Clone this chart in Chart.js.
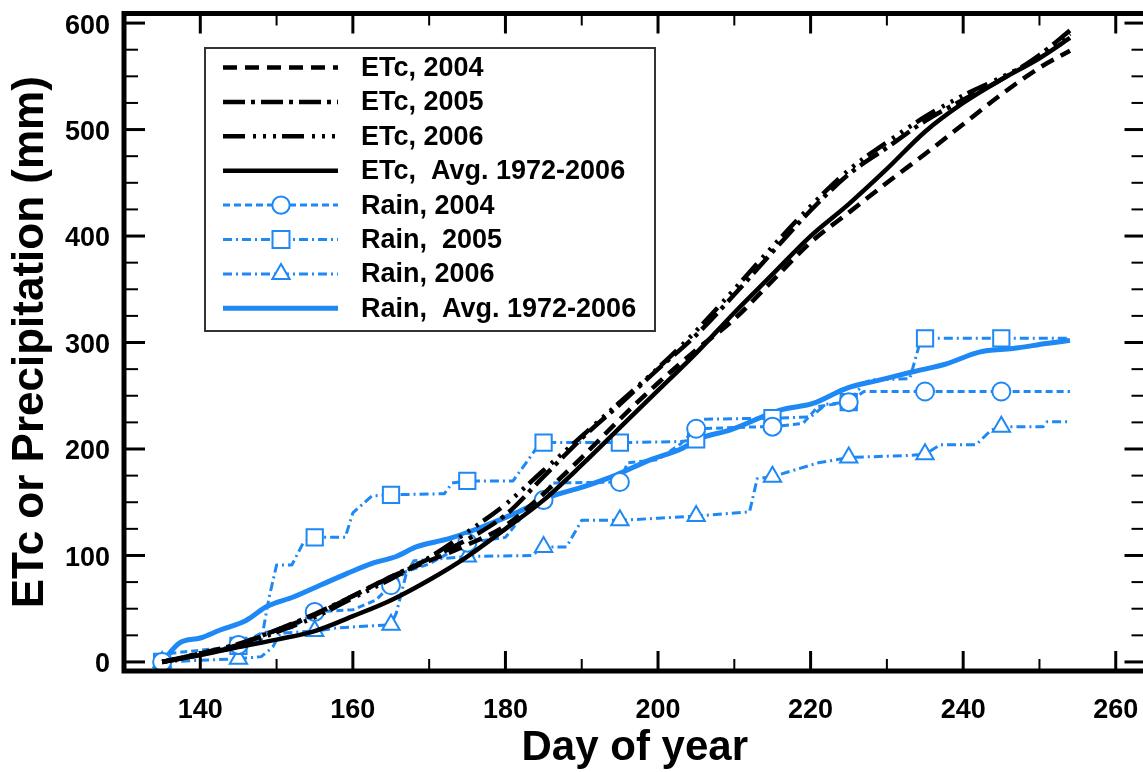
<!DOCTYPE html>
<html><head><meta charset="utf-8">
<script src="https://cdn.jsdelivr.net/npm/chart.js@4.4.1/dist/chart.umd.min.js"></script>
<style>html,body{margin:0;padding:0;background:#fff;overflow:hidden}canvas{display:block}</style>
</head><body>
<canvas id="c" width="1159" height="772"></canvas>
<script>
// ---------- data ----------
const etcDays  = [135,140,145,150,155,160,165,170,175,180,185,190,195,200,205,210,215,220,225,230,235,240,245,250,254];
const etcAvg   = [0,6.5,14,21,29,43,58,77,99,125,152,185,220,255,290,328,364,400,430,463,498,525,547,567,586];
const etc2004  = [0,8,16,30,44,62,80,95,110,128,158,192,228,262,293,322,358,394,422,450,477,505,533,558,574];
const etc2005  = [0,8,17,30,45,62,80,97,115,138,174,210,242,275,307,345,385,424,458,483,508,528,547,570,593];
const etc2006  = [0,7,15,28,42,60,78,98,122,148,180,212,244,276,311,350,390,428,462,488,512,532,549,568,590];

const rain2004Days = [135,136,144,145,148,152,155,160,163,165,167,170,175,180,182,185,186,195,196,200,203,205,214,215,219,221,225,227,235,245,254];
const rain2004     = [0,8,14,16,27,32,47,49,58,72,85,92,112,117,135,152,168,169,187,190,205,219,221,221,224,240,244,254,254,254,254];

const rain2005Days = [135,144,145,148,149,150,152,153.5,155,159,160,162.5,165,172,173,175,181,183,184,185,195,203,205,206,215,220,222,225,227,228,233,234.5,235,245,254];
const rain2005     = [0,14,15,20,60,91,91,112,117,117,140,156,157,158,168,170,170,190,200,206,206,207,209,228,229,230,242,244,262,265,266,304,304,304,304];

const rain2006Days = [135,145,148,149.5,150.5,155,158,165,165.7,167,168,175,183.5,185,188,190,195,200,205,212,213,215,221,225,233,235,237,241.7,243.7,245,250.5,251,254];
const rain2006     = [0,3,5,14,27,29,32,35,46,83,95,99,100,108,108,133,133,135,137,141,172,174,187,192,194,195,204,204,218,221,221,225.5,225.5];

const rainAvgDays = [135,137.3,140,142.6,146,148.7,152.2,155.7,159.2,162.7,165.7,168.3,172.7,177,181.4,185.8,190.2,194.5,198.9,203,205.5,209.4,216,220.3,224.7,229,233.4,237.8,242.1,246.5,250.9,254];
const rainAvg     = [0,18,22.5,30,39,52,61,72,83,93,99,108,116,127,140,155,164.5,175.5,189.6,200,210,217.7,236.5,242.8,257,264.7,272.5,280,291,294.4,299,302];

const markerDays = [135,145,155,165,175,185,195,205,215,225,235,245];

const xTickVals  = [140,160,180,200,220,240,260];
const xMinorVals = [150,170,190,210,230,250];
const yTickVals  = [0,100,200,300,400,500,600];
const yMinorVals = [25,50,75,125,150,175,225,250,275,325,350,375,425,450,475,525,550,575];

const labels = ['ETc, 2004','ETc, 2005','ETc, 2006','ETc,  Avg. 1972-2006','Rain, 2004','Rain,  2005','Rain, 2006','Rain,  Avg. 1972-2006'];

// ---------- styles ----------
const BLUE = '#1e88f5';
const FONT = "'Liberation Sans', Arial, Helvetica, sans-serif";
Chart.defaults.font.family = FONT;
Chart.defaults.color = '#000';

const pts = (xs, ys) => xs.map((d, i) => ({x: d, y: ys[i]}));
const markerR = r => (c => (c.raw && markerDays.includes(c.raw.x)) ? r : 0);

const datasets = [
  {label: labels[0], data: pts(etcDays, etc2004), borderColor:'#000', borderWidth:4.5, borderDash:[14,8], cubicInterpolationMode:'monotone', pointRadius:0},
  {label: labels[1], data: pts(etcDays, etc2005), borderColor:'#000', borderWidth:4.5, borderDash:[22,6,4,6], cubicInterpolationMode:'monotone', pointRadius:0},
  {label: labels[2], data: pts(etcDays, etc2006), borderColor:'#000', borderWidth:4.5, borderDash:[22,8,3,7,3,7,3,6], cubicInterpolationMode:'monotone', pointRadius:0},
  {label: labels[3], data: pts(etcDays, etcAvg), borderColor:'#000', borderWidth:4.5, borderDash:[], cubicInterpolationMode:'monotone', pointRadius:0},
  {label: labels[4], data: pts(rain2004Days, rain2004), borderColor:BLUE, borderWidth:3, borderDash:[7,4], tension:0,
    pointStyle:'circle', pointRadius: markerR(9), legendR:8.7, pointBorderWidth:2, pointBackgroundColor:'#fff', pointBorderColor:BLUE},
  {label: labels[5], data: pts(rain2005Days, rain2005), borderColor:BLUE, borderWidth:3, borderDash:[9,4,2,4], tension:0,
    pointStyle:'rect', pointRadius: markerR(11.5), legendR:12, pointBorderWidth:2, pointBackgroundColor:'#fff', pointBorderColor:BLUE},
  {label: labels[6], data: pts(rain2006Days, rain2006), borderColor:BLUE, borderWidth:3, borderDash:[9,4,2,4], tension:0,
    pointStyle:'triangle', pointRadius: markerR(10), legendR:10, pointBorderWidth:2, pointBackgroundColor:'#fff', pointBorderColor:BLUE},
  {label: labels[7], data: pts(rainAvgDays, rainAvg), borderColor:BLUE, borderWidth:5, borderDash:[], cubicInterpolationMode:'monotone', pointRadius:0}
];

// ---------- plugins ----------
const framePlugin = {
  id: 'frame',
  afterDraw(chart) {
    const {ctx, chartArea: a, scales: {x, y}} = chart;
    ctx.save();
    ctx.strokeStyle = '#000';
    const seg = (x1, y1, x2, y2) => { ctx.beginPath(); ctx.moveTo(x1, y1); ctx.lineTo(x2, y2); ctx.stroke(); };
    const tx = (vals, len, w) => { ctx.lineWidth = w; vals.forEach(v => { const p = x.getPixelForValue(v); seg(p, a.bottom, p, a.bottom - len); seg(p, a.top, p, a.top + len); }); };
    const ty = (vals, len, w) => { ctx.lineWidth = w; vals.forEach(v => { const p = y.getPixelForValue(v); seg(a.left, p, a.left + len, p); seg(a.right, p, a.right - len, p); }); };
    tx(xTickVals, 20, 3); tx(xMinorVals, 12, 2);
    ty(yTickVals, 21, 3); ty(yMinorVals, 14, 2);
    ctx.lineWidth = 5;
    ctx.strokeRect(a.left, a.top, a.right - a.left, a.bottom - a.top);
    ctx.restore();
  }
};

const legendPlugin = {
  id: 'boxLegend',
  afterDraw(chart) {
    const ctx = chart.ctx;
    const bx = 205, by = 48, bw = 450, bh = 283;
    ctx.save();
    ctx.fillStyle = '#fff';
    ctx.fillRect(bx, by, bw, bh);
    ctx.strokeStyle = '#333'; ctx.lineWidth = 2;
    ctx.strokeRect(bx, by, bw, bh);
    chart.data.datasets.forEach((ds, i) => {
      const yy = 67.5 + i * 34.4;
      ctx.strokeStyle = ds.borderColor;
      ctx.lineWidth = ds.borderWidth;
      ctx.setLineDash(ds.borderDash || []);
      ctx.beginPath(); ctx.moveTo(223, yy); ctx.lineTo(338, yy); ctx.stroke();
      ctx.setLineDash([]);
      if (ds.pointStyle) {
        ctx.fillStyle = ds.pointBackgroundColor; ctx.strokeStyle = ds.pointBorderColor; ctx.lineWidth = ds.pointBorderWidth;
        Chart.helpers.drawPoint(ctx, {pointStyle: ds.pointStyle, radius: ds.legendR, borderWidth: ds.pointBorderWidth, rotation: 0}, 281, yy);
      }
      ctx.fillStyle = '#000';
      ctx.font = 'bold 27px ' + FONT;
      ctx.textBaseline = 'middle'; ctx.textAlign = 'left';
      ctx.fillText(ds.label, 361, yy + 1);
    });
    ctx.restore();
  }
};

new Chart(document.getElementById('c'), {
  type: 'line',
  data: {datasets},
  options: {
    responsive: false,
    animation: false,
    devicePixelRatio: 1,
    layout: {padding: {top: 13, right: 0, left: 0, bottom: 0}},
    plugins: {legend: {display: false}, tooltip: {enabled: false}},
    elements: {line: {borderCapStyle: 'butt', borderJoinStyle: 'round'}},
    scales: {
      x: {
        type: 'linear', min: 130, max: 263.9,
        grid: {display: false, drawTicks: false}, border: {display: false},
        afterBuildTicks: s => { s.ticks = xTickVals.map(v => ({value: v})); },
        afterFit: s => { s.height = 101; s.paddingLeft = 0; s.paddingRight = 0; },
        ticks: {font: {size: 27, weight: 'bold'}, color: '#000', padding: 23, maxRotation: 0, autoSkip: false, callback: v => String(v)},
        title: {display: true, text: 'Day of year', font: {size: 42, weight: 'bold', lineHeight: 1.1}, color: '#000', padding: {top: 0, bottom: 0}}
      },
      y: {
        type: 'linear', min: -8.5, max: 609,
        grid: {display: false, drawTicks: false}, border: {display: false},
        afterBuildTicks: s => { s.ticks = yTickVals.map(v => ({value: v})); },
        afterFit: s => { s.width = 124; s.paddingTop = 0; s.paddingBottom = 0; },
        ticks: {font: {size: 27, weight: 'bold'}, color: '#000', padding: 14, labelOffset: 3, autoSkip: false, callback: v => String(v)},
        title: {display: true, text: 'ETc or Precipitation (mm)', font: {size: 44, weight: 'bold', lineHeight: 1.2}, color: '#000', padding: {top: 4.6, bottom: 0}}
      }
    }
  },
  plugins: [framePlugin, legendPlugin]
});
</script>
</body></html>
